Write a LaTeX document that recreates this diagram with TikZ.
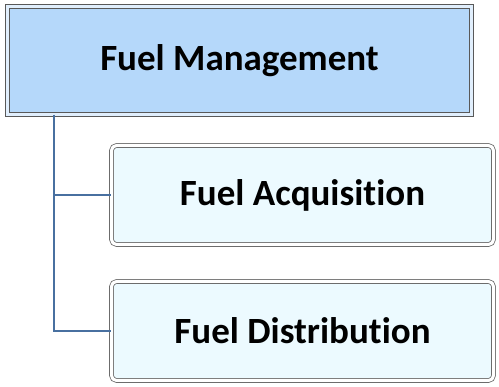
\documentclass[tikz,border=0pt]{standalone}
\usepackage{fontspec}
\setmainfont[Ligatures=NoCommon]{Carlito}
\usetikzlibrary{positioning,shadows}
\definecolor{headblue}{RGB}{181,216,250}
\definecolor{itemcyan}{RGB}{236,250,255}
\definecolor{linkblue}{RGB}{72,112,160}
\begin{document}
\begin{tikzpicture}[x=1pt,y=-1pt,
  head/.style={draw=gray!70!black,line width=0.8pt,fill=headblue,double=white!60!headblue,double distance=3pt,
    minimum width=464pt,minimum height=108pt,font=\fontsize{37}{44}\selectfont\bfseries},
  item/.style={draw=gray!85!black,line width=0.8pt,fill=itemcyan,rounded corners=5pt,double=white,double distance=3pt,
    drop shadow={opacity=0.3,shadow xshift=1pt,shadow yshift=-2pt},
    minimum width=382pt,minimum height=99pt,font=\fontsize{37}{44}\selectfont\bfseries},
  link/.style={draw=linkblue,line width=1.3pt}]
\useasboundingbox (0,0) rectangle (499,387);
\node[head](top) at (239.5,60.5) {Fuel Management};
\node[item](acq) at (302.5,195) {Fuel Acquisition};
\node[item](dist) at (302.5,331) {Fuel Distribution};
\draw[link] ([xshift=47pt]top.south west) |- (acq.west);
\draw[link] ([xshift=47pt]top.south west) |- (dist.west);
\end{tikzpicture}
\end{document}
